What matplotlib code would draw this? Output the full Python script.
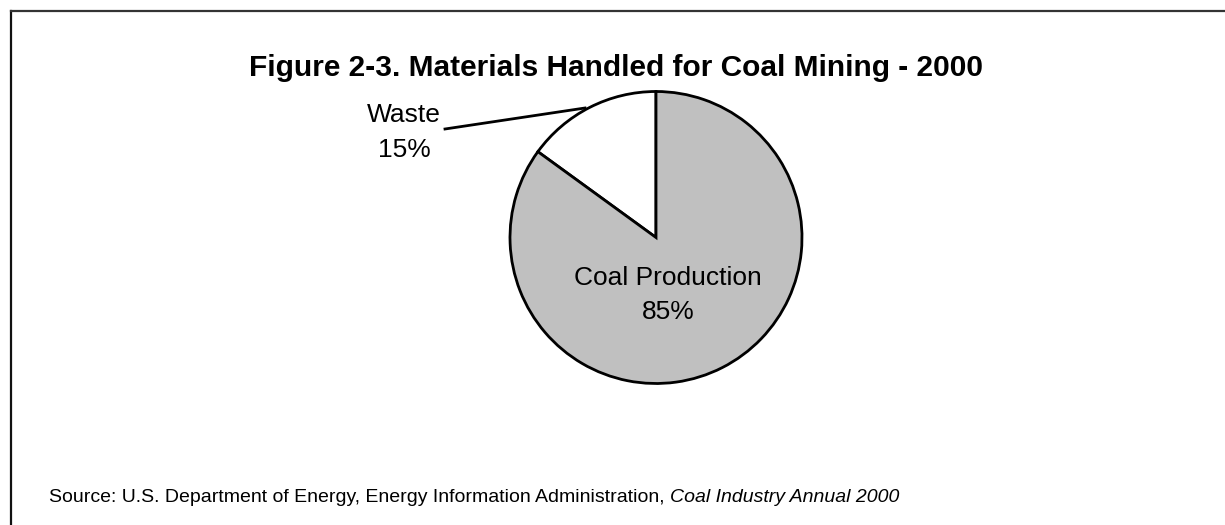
import matplotlib
matplotlib.use("Agg")
import matplotlib.pyplot as plt
from matplotlib.lines import Line2D

plt.rcParams['font.family'] = ['Liberation Sans', 'DejaVu Sans']

title = "Figure 2-3. Materials Handled for Coal Mining - 2000"
categories = ["Waste", "Coal Production"]
values = [15, 85]
pct_labels = ["15%", "85%"]
colors = ["#FFFFFF", "#C0C0C0"]
source_plain = "Source: U.S. Department of Energy, Energy Information Administration, "
source_italic = "Coal Industry Annual 2000"

W, H = 1225, 525
fig = plt.figure(figsize=(W / 100, H / 100), dpi=100)

def fx(px):
    return px / W

def fy(py):
    return 1 - py / H

# border (top and left visible; runs off right/bottom)
fig.add_artist(Line2D([fx(11), fx(11)], [fy(11), fy(530)], color="#111111", lw=1.6,
                      transform=fig.transFigure))
fig.add_artist(Line2D([fx(11), fx(1230)], [fy(11), fy(11)], color="#333333", lw=1.6,
                      transform=fig.transFigure))

cx, cy, r = 656, 237.5, 146
ax = fig.add_axes([fx(cx - r), fy(cy + r), (2 * r) / W, (2 * r) / H])
wedges, _ = ax.pie(values, colors=colors, startangle=90, counterclock=True,
                   wedgeprops=dict(edgecolor="black", linewidth=2.0))
ax.set_xlim(-1, 1)
ax.set_ylim(-1, 1)
ax.axis("off")

fig.text(fx(616), fy(68), title, ha="center", va="center", fontsize=21.5,
         fontweight="bold")

# Waste label with leader line
fig.text(fx(404), fy(115), categories[0], ha="center", va="center", fontsize=19)
fig.text(fx(404), fy(150), pct_labels[0], ha="center", va="center", fontsize=19)
fig.add_artist(Line2D([fx(445), fx(585)], [fy(129), fy(108)], color="black", lw=2.0,
                      transform=fig.transFigure))

# Coal production label
fig.text(fx(668), fy(278), categories[1], ha="center", va="center", fontsize=19)
fig.text(fx(668), fy(312), pct_labels[1], ha="center", va="center", fontsize=19)

t1 = fig.text(fx(49), fy(497), source_plain, ha="left", va="center", fontsize=14)
fig.canvas.draw()
bb = t1.get_window_extent(renderer=fig.canvas.get_renderer())
fig.text(bb.x1 / W, fy(497), source_italic, ha="left", va="center", fontsize=14,
         style="italic")

fig.savefig("out.png", dpi=100)
